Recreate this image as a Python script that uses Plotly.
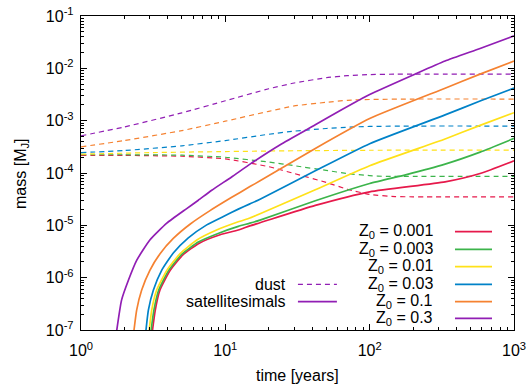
import plotly.graph_objects as go

# ---------------- data ----------------
labels = ["Z<sub>0</sub> = 0.001", "Z<sub>0</sub> = 0.003", "Z<sub>0</sub> = 0.01",
          "Z<sub>0</sub> = 0.03", "Z<sub>0</sub> = 0.1", "Z<sub>0</sub> = 0.3"]
colors = ["#e6194b", "#3cb44b", "#ffe119", "#0082c8", "#f58231", "#911eb4"]

# dust mass (dashed)
dust_t_red = [1, 2, 5, 10, 20, 30, 50, 70, 100, 150, 200, 1000]
dust_m_red = [2.17e-4, 2.17e-4, 2.09e-4, 1.86e-4, 1.32e-4, 9.77e-5, 6.61e-5, 4.90e-5, 3.89e-5, 3.55e-5, 3.51e-5, 3.51e-5]
dust_t_green = [1, 2, 5, 10, 20, 30, 50, 70, 100, 130, 200, 1000]
dust_m_green = [2.23e-4, 2.23e-4, 2.19e-4, 2.00e-4, 1.62e-4, 1.38e-4, 1.12e-4, 9.77e-5, 8.91e-5, 8.61e-5, 8.59e-5, 8.59e-5]
dust_t_yellow = [1, 3, 10, 30, 100, 1000]
dust_m_yellow = [2.29e-4, 2.45e-4, 2.57e-4, 2.66e-4, 2.72e-4, 2.74e-4]
dust_t_blue = [1, 2, 5, 10, 20, 30, 50, 70, 100, 200, 1000]
dust_m_blue = [2.45e-4, 2.69e-4, 3.31e-4, 4.17e-4, 5.50e-4, 6.31e-4, 7.08e-4, 7.50e-4, 7.76e-4, 7.89e-4, 7.89e-4]
dust_t_orange = [1, 2, 5, 10, 20, 30, 50, 70, 100, 200, 1000]
dust_m_orange = [3.16e-4, 4.17e-4, 6.46e-4, 9.77e-4, 1.51e-3, 1.91e-3, 2.24e-3, 2.45e-3, 2.54e-3, 2.59e-3, 2.59e-3]
dust_t_purple = [1, 2, 5, 10, 20, 30, 50, 70, 100, 150, 200, 1000]
dust_m_purple = [5.13e-4, 7.59e-4, 1.41e-3, 2.40e-3, 4.07e-3, 5.25e-3, 6.61e-3, 7.24e-3, 7.59e-3, 7.73e-3, 7.76e-3, 7.76e-3]

# satellitesimal mass (solid)
sat_t_red = [3.13, 3.27, 3.52, 4.15, 5.1, 6.6, 9.2, 12.3, 14.8, 17.4, 42, 100, 333, 582, 1000]
sat_m_red = [1.00e-7, 2.40e-7, 5.75e-7, 1.38e-6, 2.75e-6, 4.57e-6, 6.61e-6, 8.13e-6, 9.77e-6, 1.12e-5, 2.40e-5, 4.37e-5, 6.76e-5, 9.77e-5, 1.71e-4]
sat_t_green = [3.06, 3.2, 3.45, 4.05, 5.0, 6.5, 9.0, 12.3, 14.8, 17.4, 42, 100, 180, 333, 582, 1000]
sat_m_green = [1.00e-7, 2.40e-7, 5.75e-7, 1.38e-6, 2.82e-6, 4.79e-6, 7.08e-6, 9.55e-6, 1.10e-5, 1.26e-5, 2.95e-5, 6.31e-5, 9.33e-5, 1.48e-4, 2.51e-4, 4.58e-4]
sat_t_yellow = [2.97, 3.09, 3.34, 3.93, 4.86, 6.35, 8.7, 12.3, 14.8, 17.4, 42, 100, 333, 582, 1000]
sat_m_yellow = [1.00e-7, 2.40e-7, 5.75e-7, 1.38e-6, 2.88e-6, 5.25e-6, 8.13e-6, 1.17e-5, 1.38e-5, 1.66e-5, 4.79e-5, 1.38e-4, 4.47e-4, 8.13e-4, 1.42e-3]
sat_t_blue = [2.82, 2.93, 3.17, 3.62, 4.36, 5.54, 7.43, 9.7, 12.3, 14.8, 17.4, 42, 100, 333, 582, 1000]
sat_m_blue = [1.00e-7, 2.40e-7, 5.75e-7, 1.38e-6, 2.95e-6, 5.75e-6, 1.02e-5, 1.48e-5, 2.04e-5, 2.57e-5, 3.16e-5, 1.10e-4, 3.63e-4, 1.29e-3, 2.37e-3, 4.20e-3]
sat_t_orange = [2.33, 2.43, 2.63, 3.0, 3.53, 4.36, 5.69, 7.83, 11, 14.8, 17.4, 42, 100, 333, 582, 1000]
sat_m_orange = [1.00e-7, 2.40e-7, 5.75e-7, 1.38e-6, 2.88e-6, 5.62e-6, 1.05e-5, 1.91e-5, 3.39e-5, 5.50e-5, 7.08e-5, 2.95e-4, 1.10e-3, 4.17e-3, 7.76e-3, 1.38e-2]
sat_t_purple = [1.77, 1.91, 2.13, 2.43, 3.0, 3.93, 5.4, 6.5, 8.05, 11, 15, 24, 42, 63, 100, 210, 333, 582, 1000]
sat_m_purple = [1.00e-7, 3.72e-7, 8.91e-7, 2.14e-6, 5.25e-6, 1.10e-5, 2.09e-5, 3.02e-5, 4.68e-5, 8.32e-5, 1.51e-4, 3.47e-4, 8.32e-4, 1.58e-3, 3.16e-3, 7.94e-3, 1.38e-2, 2.40e-2, 4.17e-2]

x_tickvals = [1, 10, 100, 1000]
x_ticktext = ["10<sup>0</sup>", "10<sup>1</sup>", "10<sup>2</sup>", "10<sup>3</sup>"]
x_minor = [2, 3, 4, 5, 6, 7, 8, 9, 20, 30, 40, 50, 60, 70, 80, 90, 200, 300, 400, 500, 600, 700, 800, 900]
y_tickvals = [1e-7, 1e-6, 1e-5, 1e-4, 1e-3, 1e-2, 1e-1]
y_ticktext = ["10<sup>-7</sup>", "10<sup>-6</sup>", "10<sup>-5</sup>", "10<sup>-4</sup>",
              "10<sup>-3</sup>", "10<sup>-2</sup>", "10<sup>-1</sup>"]
y_minor = [k * 10.0 ** e for e in range(-7, -1) for k in range(2, 10)]

dust = [(dust_t_red, dust_m_red), (dust_t_green, dust_m_green), (dust_t_yellow, dust_m_yellow),
        (dust_t_blue, dust_m_blue), (dust_t_orange, dust_m_orange), (dust_t_purple, dust_m_purple)]
sats = [(sat_t_red, sat_m_red), (sat_t_green, sat_m_green), (sat_t_yellow, sat_m_yellow),
        (sat_t_blue, sat_m_blue), (sat_t_orange, sat_m_orange), (sat_t_purple, sat_m_purple)]

FONT = "Liberation Sans, Arial, sans-serif"
TXT = dict(size=16, color="black", family=FONT)
fig = go.Figure()

for (t, m), c in zip(dust, colors):
    fig.add_trace(go.Scatter(x=t, y=m, mode="lines", showlegend=False, hoverinfo="skip",
                             line=dict(color=c, width=1.2, dash="5px,4px", shape="spline", smoothing=0.5)))
for (t, m), c in zip(sats, colors):
    fig.add_trace(go.Scatter(x=t, y=m, mode="lines", showlegend=False, hoverinfo="skip",
                             line=dict(color=c, width=1.7, shape="spline", smoothing=0.5)))

# ---- custom gnuplot-style legend (text then key sample) ----
rows = [0.3131, 0.2570, 0.2016, 0.1455, 0.0901, 0.0372]
for lab, c, yy in zip(labels, colors, rows):
    fig.add_annotation(xref="paper", yref="paper", x=0.8176, y=yy, text=lab, showarrow=False,
                       xanchor="right", yanchor="middle", font=TXT)
    fig.add_shape(type="line", xref="paper", yref="paper", x0=0.8637, x1=0.9492, y0=yy, y1=yy,
                  line=dict(color=c, width=1.7))
fig.add_annotation(xref="paper", yref="paper", x=0.478, y=0.1455, text="dust", showarrow=False,
                   xanchor="right", yanchor="middle", font=TXT)
fig.add_shape(type="line", xref="paper", yref="paper", x0=0.501, x1=0.591, y0=0.1455, y1=0.1455,
              line=dict(color=colors[5], width=1.2, dash="5px,4px"))
fig.add_annotation(xref="paper", yref="paper", x=0.478, y=0.0901, text="satellitesimals", showarrow=False,
                   xanchor="right", yanchor="middle", font=TXT)
fig.add_shape(type="line", xref="paper", yref="paper", x0=0.501, x1=0.591, y0=0.0901, y1=0.0901,
              line=dict(color=colors[5], width=1.7))

# axis titles
fig.add_annotation(xref="paper", yref="paper", x=0.5, y=-0.112, text="time [years]", showarrow=False,
                   xanchor="center", yanchor="top", font=TXT)
fig.add_annotation(xref="paper", yref="paper", x=-0.1386, y=0.5, text="mass [M<sub>J</sub>]", showarrow=False,
                   xanchor="center", yanchor="middle", textangle=-90, font=TXT)

axis_common = dict(type="log", showgrid=False, zeroline=False, showline=True, linecolor="black",
                   linewidth=1.2, mirror="allticks", ticks="inside", ticklen=6, tickwidth=1,
                   tickcolor="black", tickfont=TXT, automargin=False)

fig.update_xaxes(range=[0, 3], tickmode="array", tickvals=x_tickvals, ticktext=x_ticktext,
                 ticklabelstandoff=6,
                 minor=dict(tickmode="array", tickvals=x_minor, ticks="inside", ticklen=3,
                            tickcolor="black", showgrid=False),
                 **axis_common)
fig.update_yaxes(range=[-7, -1], tickmode="array", tickvals=y_tickvals, ticktext=y_ticktext,
                 ticklabelstandoff=3,
                 minor=dict(tickmode="array", tickvals=y_minor, ticks="inside", ticklen=3,
                            tickcolor="black", showgrid=False),
                 **axis_common)

fig.update_layout(width=527, height=385, margin=dict(l=81, r=13, t=16, b=55),
                  paper_bgcolor="white", plot_bgcolor="white", hovermode=False,
                  font=dict(family=FONT, size=16, color="black"))

fig.write_html("out.html", config={"displayModeBar": False, "staticPlot": True},
               post_script="document.body.style.margin='0';document.body.style.overflow='hidden';")
